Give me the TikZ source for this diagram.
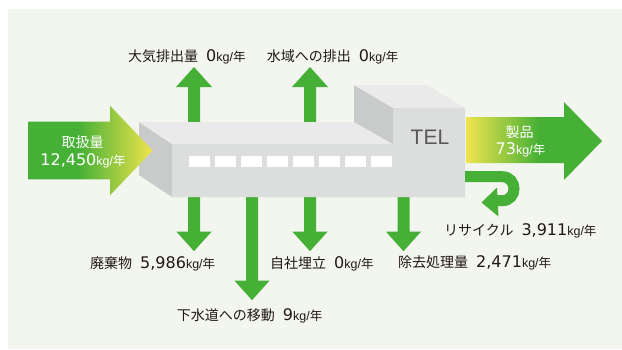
\documentclass[tikz,border=0pt]{standalone}
\usepackage{fontspec}
\setmainfont{Liberation Sans}
\newfontfamily\jpfont{Noto Sans CJK JP}
\newfontfamily\numfont{DejaVu Sans}

\definecolor{bgtint}{HTML}{F2F6EF}
\definecolor{flowgreen}{HTML}{45B035}
\definecolor{flowyellow}{HTML}{F0E44E}
\definecolor{boxfront}{HTML}{DCDDDD}
\definecolor{boxtop}{HTML}{E9EAE9}
\definecolor{boxside}{HTML}{C9CACA}
\definecolor{logogray}{HTML}{595757}
\definecolor{labelink}{HTML}{231815}

% green-to-yellow for the incoming flow, yellow-to-green for the product flow
\pgfdeclarehorizontalshading{inflowshade}{100bp}{color(0bp)=(flowgreen); color(45bp)=(flowgreen); color(75bp)=(flowyellow); color(100bp)=(flowyellow)}
\pgfdeclarehorizontalshading{outflowshade}{100bp}{color(0bp)=(flowyellow); color(25bp)=(flowyellow); color(52bp)=(flowgreen); color(100bp)=(flowgreen)}

\newcommand\kgunit{{\fontsize{12.5}{13}\selectfont kg/{\jpfont 年}}}
\newcommand\amount[1]{{\numfont\fontsize{16}{16}\selectfont #1}}
\newcommand\flowlabel[2]{{\jpfont #1}\hspace{8pt}\amount{#2}\kgunit}

\tikzset{
  pics/upflow/.style={code={
    \fill[flowgreen] (-6,0) -- (-6,-#1) -- (-18,-#1) -- (0,-#1-20) -- (18,-#1) -- (6,-#1) -- (6,0) -- cycle;}},
  pics/downflow/.style={code={
    \fill[flowgreen] (-6,0) -- (-6,#1) -- (-17.5,#1) -- (0,#1+19.5) -- (17.5,#1) -- (6,#1) -- (6,0) -- cycle;}},
  labeltext/.style={anchor=base west, inner sep=0pt, text=labelink, font=\fontsize{14}{14}\selectfont},
  arrowtext/.style={inner sep=0pt, text=white, font=\fontsize{14}{14}\selectfont},
  window/.style={fill=white},
}

\begin{document}
\begin{tikzpicture}[x=1pt,y=-1pt]
\useasboundingbox (0,0) rectangle (622,349);
\fill[bgtint] (8,9) rectangle (622,349);

% emissions upward (behind the machine)
\pic at (194,122) {upflow=35};
\pic at (310,122) {upflow=35};

% discharges downward
\pic at (194,190) {downflow=41.7};
\pic at (252,190) {downflow=90.7};
\pic at (310,190) {downflow=41.7};
\pic at (403.5,190) {downflow=41.7};

% the machine
\fill[boxside] (139,122) -- (172,144) -- (172,197) -- (139,175) -- cycle;
\fill[boxtop] (139,122) -- (354,122) -- (393,144) -- (172,144) -- cycle;
\fill[boxfront] (172,144) -- (393,144) -- (393,108) -- (465,108) -- (465,197) -- (172,197) -- cycle;
\fill[boxside] (354,85) -- (393,108) -- (393,144) -- (354,122) -- cycle;
\fill[boxtop] (354,85) -- (427,85) -- (465,108) -- (393,108) -- cycle;
\foreach \k in {0,...,7}
  \fill[window] ({189+26*\k},156) rectangle ({210+26*\k},166.7);
\node[text=logogray, font=\fontsize{21}{21}\selectfont, inner sep=0pt] (tel) at (430,137.5) {TEL};

% incoming flow
\shade[shading=inflowshade] (28.3,121.7) -- (110,121.7) -- (110,105.7) -- (152.7,150.5) -- (110,195.3) -- (110,179.3) -- (28.3,179.3) -- cycle;
\node[arrowtext] (intitle) at (82.7,141.7) {\jpfont 取扱量};
\node[arrowtext] (invalue) at (83,160.7) {\amount{12,450}\kgunit};

% product flow
\shade[shading=outflowshade] (466,117) -- (564,117) -- (564,102) -- (602,141) -- (564,180) -- (564,163) -- (466,163) -- cycle;
\node[arrowtext] (outtitle) at (519.7,131.7) {\jpfont 製品};
\node[arrowtext] (outvalue) at (520.5,150) {\amount{73}\kgunit};

% recycling loop
\draw[flowgreen, line width=11pt] (465,176.7) -- (502,176.7)
  .. controls (518,176.7) and (518,200.7) .. (502,200.7) -- (496,200.7);
\fill[flowgreen] (481.5,202.5) -- (497,187.5) -- (498.5,216.5) -- cycle;

% quantities
\node[labeltext] (air) at (128,61) {\flowlabel{大気排出量}{0}};
\node[labeltext] (water) at (266.7,61) {\flowlabel{水域への排出}{0}};
\node[labeltext] (waste) at (90,268.5) {\flowlabel{廃棄物}{5,986}};
\node[labeltext] (landfill) at (270,268.5) {\flowlabel{自社埋立}{0}};
\node[labeltext] (sewer) at (176.7,320) {\flowlabel{下水道への移動}{9}};
\node[labeltext] (treated) at (398,267.5) {\flowlabel{除去処理量}{2,471}};
\node[labeltext] (recycled) at (444,235) {\flowlabel{リサイクル}{3,911}};
\end{tikzpicture}
\end{document}
